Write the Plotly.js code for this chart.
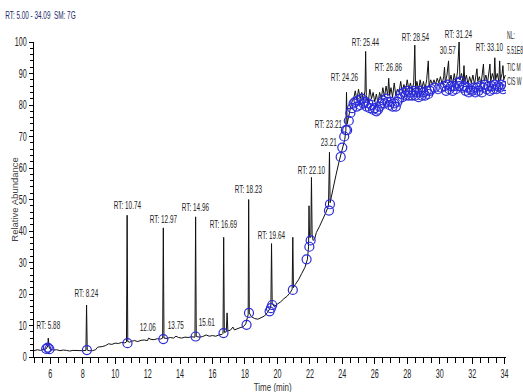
<!DOCTYPE html>
<html>
<head>
<meta charset="utf-8">
<script src="https://cdn.plot.ly/plotly-3.0.1.min.js"></script>
<style>html,body{margin:0;padding:0;background:#fff}#chart{width:523px;height:392px}</style>
</head>
<body>
<div id="chart"></div>
<script>
// TIC trace (black)
const ticTime = [5.0,5.2,5.4,5.6,5.75,5.85,5.88,5.92,6.0,6.2,6.4,6.6,6.8,7.0,7.2,7.4,7.6,7.8,8.0,8.2,8.24,8.28,8.4,8.6,8.8,8.9,9.0,9.2,9.4,9.6,9.8,10.0,10.2,10.4,10.6,10.7,10.74,10.78,10.9,11.0,11.2,11.4,11.6,11.8,12.0,12.06,12.2,12.4,12.6,12.8,12.93,12.97,13.01,13.2,13.4,13.6,13.75,13.9,14.1,14.3,14.5,14.7,14.92,14.96,15.0,15.2,15.4,15.61,15.8,16.0,16.2,16.4,16.6,16.65,16.69,16.73,16.85,16.9,16.95,17.1,17.26,17.35,17.5,17.7,17.9,18.05,18.15,18.2,18.23,18.27,18.4,18.6,18.8,19.0,19.2,19.4,19.55,19.6,19.64,19.68,19.8,20.0,20.2,20.4,20.6,20.8,20.91,20.95,20.99,21.1,21.3,21.5,21.7,21.85,21.92,21.95,21.98,22.06,22.1,22.14,22.2,22.3,22.4,22.6,22.8,23.0,23.15,23.21,23.25,23.4,23.6,23.8,24.0,24.15,24.22,24.26,24.3,24.4,24.5,24.6,
24.7,24.8,24.9,25.0,25.1,25.2,25.3,25.4,25.44,25.48,25.6,25.7,25.8,25.9,26.0,26.1,26.2,26.3,26.4,26.5,26.6,26.7,26.8,26.86,26.92,27.0,27.1,27.2,27.3,27.4,27.5,27.6,27.7,27.8,27.9,28.0,28.1,28.2,28.3,28.4,28.47,28.52,28.6,28.7,28.8,28.9,29.0,29.1,29.2,29.3,29.35,29.45,29.55,29.65,29.75,29.85,29.95,30.05,30.15,30.25,30.3,30.35,30.45,30.55,30.6,30.7,30.8,30.9,31.0,31.1,31.2,31.25,31.35,31.45,31.5,31.55,31.65,31.75,31.85,31.95,32.05,32.15,32.25,32.3,32.35,32.45,32.55,32.65,32.7,32.75,32.85,32.95,33.05,33.1,33.15,33.25,33.35,33.4,33.45,33.55,33.65,33.7,33.75,33.85,33.9,33.95,34.05];
const ticAbund = [2.0,2.3,2.1,2.4,2.6,3.5,6.0,3.2,2.5,2.2,2.3,2.0,2.2,2.1,1.9,2.1,2.0,1.9,2.0,2.1,16.5,2.2,2.0,2.0,2.3,3.0,3.2,3.3,3.6,4.2,4.0,4.4,4.3,4.6,4.5,4.8,45,4.9,4.7,5.0,5.2,4.9,5.3,5.4,5.2,6.0,5.6,5.5,5.8,5.7,6.0,41,6.0,5.9,6.2,6.0,6.6,6.2,6.0,6.3,6.2,6.4,6.3,44.5,6.5,6.3,6.5,7.0,6.6,6.8,6.6,7.0,7.2,7.5,38,7.8,8.0,14,8.3,8.5,9.5,8.6,8.8,9.3,9.6,10.5,12.5,13.5,50,14,12.8,12.2,12.0,12.4,13.0,14.2,15.5,16.5,36,17,16.0,16.8,17.5,18.5,19.3,20.5,21.5,38,22,23,24.5,26.5,28.5,31,35,48,38,38,57,39,37,37.5,39.5,41.5,43.5,46,48,65,49,53,57.5,62,66,69,72,84,74,77,79,81,
82,84.5,81.5,85,82,84,81.5,84.5,97,83,81,85,82,84,81,83.5,80.5,84,82,85.5,82.5,86,83,88.5,83,85.5,82.5,87,83,85,84,87.5,84,86.5,84.5,88,85,87,84.5,87,99,85,87.5,84.5,88,85,87.5,85,88,94,86,88,86.5,88,86.5,88.5,87,89,86.5,89,92,87,89.5,94,87,89.5,86.5,90,87,90.5,100,88,90,87,92.5,87.5,89.5,86.5,89,87,89.5,86.5,90,91.5,87.5,89,86.5,90,93,87.5,89.5,87,90.5,93,87.5,90,88,95,88,90,87.5,94,88,90,92.5,88,89.5];

// Overlay trace (blue circles)
const ovTime = [5.75,5.85,5.95,8.26,10.76,12.97,14.96,16.68,18.1,18.25,19.52,19.6,19.68,20.95,21.8,21.97,22.05,23.18,23.24,23.9,24.0,24.12,24.22,
24.3,24.4,24.5,24.6,24.7,24.8,24.9,25.0,25.1,25.2,25.3,25.4,25.5,25.6,25.7,25.8,25.9,26.0,26.1,26.2,26.3,26.4,26.5,26.6,26.7,26.8,26.9,27.0,27.1,27.2,27.3,27.4,27.5,27.6,27.7,27.8,27.9,28.0,28.1,28.2,28.3,28.4,28.5,28.6,28.7,28.8,28.9,29.0,29.1,29.2,29.3,29.4,29.5,29.7,29.9,30.1,30.3,30.4,30.5,30.6,30.7,30.8,30.9,31.0,31.1,31.2,31.3,31.4,31.5,31.6,31.7,31.8,31.9,32.0,32.1,32.2,32.3,32.4,32.5,32.6,32.7,32.8,32.9,33.0,33.1,33.2,33.3,33.4,33.5,33.6,33.7,33.8,33.9,34.0];
const ovAbund = [2.6,3.0,2.5,2.2,4.4,5.7,6.5,7.6,10.2,14,14.5,15.5,16.5,21.3,31,35,37,46.5,48.5,63.5,66.5,70,72,
72,75,77.5,79,80.5,81,79.5,81.5,80,82,80.5,81,79.5,80.5,79,80,78.5,79,78,78.5,79.5,80.5,81.5,80.5,82,81,80,81,79.5,80.5,79.5,81,82,83.5,82.5,84,83,84.5,83,84,83,84.5,83,84,82.5,84.5,83,84,83,84.5,83.5,84.5,85,85.5,85,85.5,86,84.5,86.5,85,86,84.5,86,85,87,86,87.5,85.5,86,84.5,85.5,84,85,84.5,85.5,84,85.5,84.5,86,84,85.5,86.5,85,86,84.5,86,85,86.5,85,86,85.5,86.5,85,86];

// Peak labels
const peakLabels = ["RT: 5.88","RT: 8.24","RT: 10.74","12.06","RT: 12.97","13.75","RT: 14.96","15.61","RT: 16.69","RT: 18.23","RT: 19.64","RT: 22.10","23.21","RT: 23.21","RT: 24.26","RT: 25.44","RT: 26.86","RT: 28.54","30.57","RT: 31.24","RT: 33.10"];
const peakLabelX = [5.88,8.24,10.76,12.03,12.97,13.75,14.96,15.66,16.69,18.23,19.64,22.12,23.17,23.12,24.15,25.46,26.82,28.53,30.5,31.17,33.08];
const peakLabelY = [7.6,17.8,45.7,7.0,41.3,7.6,45,8.6,39.7,50.8,36.2,56.8,65.7,71.4,86.3,97.5,89.5,99,95,100,95.9];

const sideText = ["NL:","5.51E8","TIC M","CIS W"];
const sideTextY = [1.022,0.975,0.92,0.876];

const sans = "Liberation Sans, Arial, sans-serif";
const NARROW = 0.58;

const annotations = peakLabels.map((t,i)=>({
  text:t, x:peakLabelX[i], y:peakLabelY[i], xref:'x', yref:'y',
  showarrow:false, xanchor:'center', yanchor:'bottom',
  font:{family:sans,size:11,color:'#222'}
}));
sideText.forEach((t,i)=>annotations.push({
  text:t, x:0.998, y:sideTextY[i], xref:'paper', yref:'paper', showarrow:false,
  xanchor:'left', yanchor:'middle', font:{family:sans,size:11,color:'#222'}
}));
// axis titles as annotations
annotations.push({text:'Relative Abundance', xref:'paper', yref:'paper', x:-0.042, y:0.5, textangle:-90,
  showarrow:false, xanchor:'center', yanchor:'middle', font:{family:sans,size:9.5,color:'#444'}});
annotations.push({text:'Time (min)', xref:'paper', yref:'paper', x:0.505, y:-0.098,
  showarrow:false, xanchor:'center', yanchor:'middle', font:{family:sans,size:10,color:'#333'}});

const traces = [
  {x:ticTime, y:ticAbund, type:'scatter', mode:'lines', line:{color:'#111',width:1}, hoverinfo:'skip'},
  {x:ovTime, y:ovAbund, type:'scatter', mode:'markers',
   marker:{symbol:'circle-open', size:9, color:'#2a2ad8', line:{width:1.2, color:'#2a2ad8'}}, hoverinfo:'skip'}
];

const layout = {
  width:523, height:392,
  margin:{l:34, r:17, t:42, b:35},
  paper_bgcolor:'#fff', plot_bgcolor:'#fff',
  showlegend:false,
  title:{text:'RT: 5.00 - 34.09  SM: 7G', x:0.01, xanchor:'left', xref:'container', y:0.962, yanchor:'middle', yref:'container',
         font:{family:sans,size:11,color:'#1c2a6a'}},
  xaxis:{range:[5,34.09], showgrid:false, zeroline:false, showline:true, linecolor:'#000', linewidth:1,
         ticks:'outside', ticklen:6, tickcolor:'#000', tick0:0, dtick:2,
         minor:{dtick:0.5, tick0:0, ticks:'outside', ticklen:5, tickcolor:'#000'},
         tickfont:{family:sans,size:12,color:'#222'}},
  yaxis:{range:[0,100], showgrid:false, zeroline:false, showline:true, linecolor:'#000', linewidth:1,
         ticks:'outside', ticklen:4, tickcolor:'#000', tick0:0, dtick:10,
         minor:{dtick:2, ticks:'outside', ticklen:3, tickcolor:'#000'},
         tickfont:{family:sans,size:12,color:'#222'}},
  annotations:annotations
};

function condense(el, s, pivotMode){
  const bb = el.getBBox();
  let p = bb.x + bb.width/2;
  if (pivotMode==='left') p = bb.x;
  if (pivotMode==='right') p = bb.x + bb.width;
  const prev = el.getAttribute('transform') || '';
  el.setAttribute('transform', prev + ' translate(' + p + ',0) scale(' + s + ',1) translate(' + (-p) + ',0)');
}

Plotly.newPlot('chart', traces, layout, {displayModeBar:false, staticPlot:true}).then(gd=>{
  const nPeak = peakLabels.length, nSide = sideText.length;
  gd.querySelectorAll('.annotation').forEach(a=>{
    const idx = +a.getAttribute('data-index');
    const t = a.querySelector('text');
    if (!t) return;
    if (idx < nPeak) condense(t, NARROW, 'center');
    else if (idx < nPeak+nSide) condense(t, 0.46, 'left');
    else if (idx === nPeak+nSide+1) condense(t, 0.8, 'center');
  });
  gd.querySelectorAll('.xtick text').forEach(t=>condense(t, 0.6, 'center'));
  gd.querySelectorAll('.ytick text').forEach(t=>condense(t, 0.6, 'right'));
  const gt = gd.querySelector('.gtitle');
  if (gt) condense(gt, NARROW, 'left');
});
</script>
</body>
</html>
